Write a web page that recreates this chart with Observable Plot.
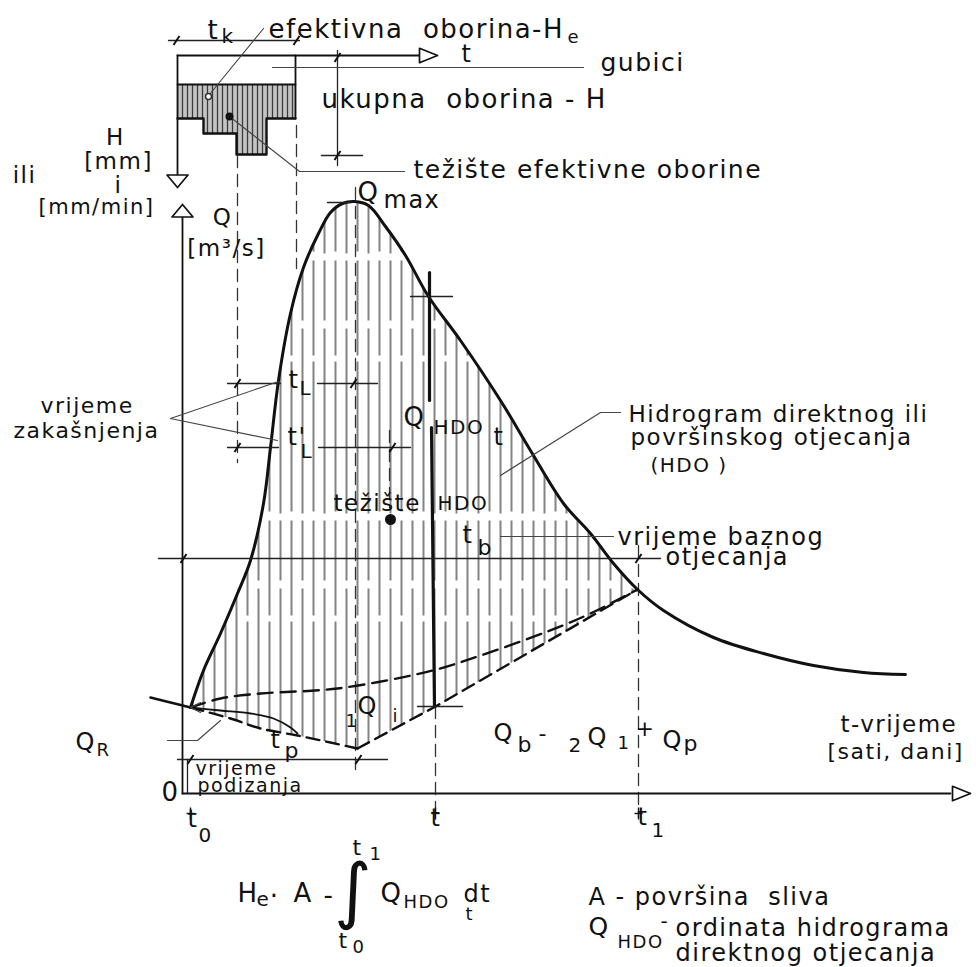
<!DOCTYPE html>
<html><head><meta charset="utf-8">
<script src="https://cdn.jsdelivr.net/npm/d3@7"></script>
<script src="https://cdn.jsdelivr.net/npm/@observablehq/plot@0.6"></script>
<style>
html,body{margin:0;padding:0;background:#fff;}
#chart svg text{letter-spacing:1.5px;white-space:pre;}
</style></head><body><div id="chart"></div>
<script>
// ---- Data (t = time units, q = discharge units; hyetograph depths measured down from its own t-axis) ----
const hydroHead = [[-4.0,9.6],[-2.0,9.1],[0,8.6]];
const hydroRiseFall = [[0,8.6],[1.3,12.3],[3.0,16.0],[4.7,20.0],[6.0,23.3],[7.3,29.0],[8.0,34.6],[8.8,41.3],[10.0,48.0],[11.3,52.6],[12.8,56.0],[14.0,58.1],[15.2,59.0],[16.4,59.2],[17.8,58.8],[19.5,56.7],[21.5,53.8],[23.8,49.7],[27.0,45.3],[31.0,39.3],[34.0,34.3],[37.3,29.0],[40.0,26.0],[42.3,23.0],[44.7,20.4]];
const hydroTail = [[44.7,20.4],[47.3,18.3],[52.3,15.6],[57.3,14.0],[62.3,12.8],[67.3,12.1],[71.5,11.9]];
const baseUpper = [[0,8.6],[3.0,9.5],[7.0,10.0],[14.7,10.5],[24.2,12.3],[29.0,13.8],[35.7,16.2],[40.0,18.0],[44.7,20.4]];
const baseDip = [[0,8.6],[4.0,7.5],[7.0,6.5],[10.7,5.8],[14.0,5.1],[16.7,4.5]];
const baseRise = [[16.7,4.5],[24.5,8.7],[44.7,20.4]];
const qrArrow = [[0,8.6],[3.0,8.3],[6.0,8.0],[8.3,7.5],[10.0,6.6],[10.7,6.0]];

const hyetoEdges = [-1.3,1.3,4.6,7.6,10.5];
const hyetoTotal = [6.3,7.8,9.9,6.3];
const hyetoLoss = 2.9;
const hyetoAxisQ = 73.8;

const axisSegs = [
  [[-0.8,0],[-0.8,57.6]],
  [[-0.8,0],[76.0,0]],
  [[-1.3,73.8],[-1.3,61.7]],
  [[-1.3,73.8],[23.1,73.8]],
  [[10.5,73.8],[10.5,67.5]],
  [[-1.3,70.9],[10.5,70.9]]
];
const arrowHeads = [[-0.8,58.9,"up"],[-1.3,60.6,"down"],[24.7,73.8,"right"],[78.0,0,"right"]];
const dimSegs = [
  [[-2.2,75.3],[10.9,75.3]],
  [[3.7,41.0],[9.0,41.0]], [[12.7,41.0],[18.7,41.0]],
  [[3.7,34.6],[8.8,34.6]], [[12.8,34.6],[22.0,34.6]],
  [[-3.2,23.5],[47.0,23.5]],
  [[-1.3,3.4],[19.7,3.4]],
  [[-0.3,3.4],[-0.3,0]],
  [[14.7,74.3],[14.7,62.8]], [[13.1,63.8],[17.2,63.8]],
  [[13.7,59.1],[16.0,59.1]],
  [[22.0,49.7],[26.2,49.7]],
  [[22.7,8.7],[27.2,8.7]]
];
const guideSegs = [
  [[4.7,63.8],[4.7,33.1]],
  [[10.6,66.8],[10.6,52.5]],
  [[16.5,60.6],[16.5,1.8]],
  [[24.5,8.7],[24.5,-2.4]],
  [[44.8,24.8],[44.8,-2.4]],
  [[19.9,36.3],[19.9,28.6]]
];
const thickSegs = [
  [[23.9,52.1],[23.9,39.3]],
  [[24.1,36.6],[24.4,8.7]]
];
const leaderSegs = [
  [[7.3,76.5],[1.9,69.9]],
  [[8.2,72.6],[39.3,72.6]],
  [[3.9,67.7],[10.9,62.2],[21.4,62.2]],
  [[-2.0,37.5],[8.8,41.2]],
  [[-2.0,37.5],[8.7,35.3]],
  [[31.0,31.8],[41.0,38.1],[43.0,38.1]],
  [[31.0,25.7],[42.3,25.7]],
  [[-2.3,5.3],[0.7,5.3],[3.0,7.3]],
  [[1.0,9.1],[0,8.6],[1.0,8.1]]
];
const slashPts = [[-1.4,75.3],[10.6,75.3],[4.7,41.0],[16.3,41.0],[4.7,34.6],[20.2,34.6],[-0.7,23.5],[44.8,23.5],[0,3.4],[16.8,3.4],[14.7,73.6],[14.7,63.8]];
const crossTicks = [[0,-2.0],[24.5,-2.0],[44.8,-2.0]];
const centroidHDO = [[20.0,27.4]];
const centroidHe = [[3.9,67.7]];
const markerHe = [[1.8,69.7]];

// labels [t, q, text] grouped by lettering size
const lab26 = [[1.7,76.3,"t"],[7.8,76.4,"efektivna\u00a0\u00a0oborina-H"],[13.1,69.4,"ukupna\u00a0\u00a0oborina\u00a0-\u00a0H"],[16.7,60.1,"Q"],[21.3,37.6,"Q"],[4.7,-10.0,"H"],[10.3,-10.0,"A"],[13.3,-10.2,"-"],[19.0,-10.0,"Q"]];
const lab25 = [[41.0,73.1,"gubici"],[22.3,62.4,"težište\u00a0efektivne\u00a0oborine"],[39.8,-13.3,"Q"]];
const lab24 = [[27.1,73.9,"t"],[19.3,59.3,"max"],[9.8,41.3,"t"],[9.7,35.6,"t'"],[30.3,35.6,"t"],[27.2,25.8,"t"],[42.7,25.6,"vrijeme baznog"],[47.5,23.6,"otjecanja"],[16.7,8.7,"Q"],[30.3,6.0,"Q"],[39.7,5.6,"Q"],[47.2,5.3,"Q"],[-11.5,5.1,"Q"],[8.0,5.3,"t"],[-0.3,-2.6,"t"],[24.0,-2.5,"t"],[44.7,-2.4,"t"],[27.3,-10.1,"dt"],[39.8,-10.4,"A\u00a0-\u00a0površina\u00a0\u00a0sliva"],[48.5,-13.5,"ordinata hidrograma"],[48.5,-16.0,"direktnog otjecanja"]];
const lab23 = [[43.8,37.9,"Hidrogram direktnog ili"],[44.0,35.6,"površinskog otjecanja"],[14.3,29.0,"težište"],[65.0,6.9,"t-vrijeme"]];
const lab22 = [[28.7,24.6,"b"],[34.8,6.0,"-"],[44.5,6.5,"+"],[49.3,5.0,"p"],[32.7,4.9,"b"],[9.4,4.3,"p"],[63.7,4.2,"[sati,\u00a0dani]"],[16.2,-5.4,"t"],[14.8,-14.7,"t"],[-15.0,38.8,"vrijeme"],[-17.7,36.3,"zakašnjenja"]];
const lab19 = [[0.5,2.5,"vrijeme"],[0.7,0.75,"podizanja"]];
const lab20 = [[10.9,40.5,"L"],[11.0,34.2,"L"],[24.3,36.6,"HDO"],[24.7,29.0,"HDO"],[3.1,75.7,"k"],[37.8,4.8,"2"],[0.8,-4.2,"0"],[46.1,-3.7,"1"],[46.0,32.8,"(HDO\u00a0)"],[6.6,-10.6,"e"],[47.0,-12.8,"-"]];
const lab18 = [[37.7,75.6,"e"],[15.5,7.2,"1"],[20.2,7.7,"i"],[42.7,5.0,"1"],[-9.4,4.3,"R"],[17.9,-6.1,"1"],[16.2,-15.4,"0"],[21.3,-10.9,"HDO"],[27.5,-12.1,"t"],[42.7,-14.9,"HDO"]];
const labCenter23 = [[-7.5,65.6,"H"],[-7.2,63.2,"[mm]"],[-7.2,60.8,"i"],[-16.6,61.8,"ili"],[3.6,54.5,"[m³/s]"],[3.2,57.6,"Q"]];
const labCenter21 = [[-9.4,58.6,"[mm/min]"]];
const labCenter26 = [[-2.0,0.1,"0"],[8.4,-10.3,"·"]];
const labIntegral = [[16.3,-9.8,"∫"]];

// ---- helpers ----
const rows = segs => segs.flatMap((s,i)=>s.map(([t,q])=>({t,q,id:i})));
const segLine = (segs,o) => Plot.line(rows(segs),{x:"t",y:"q",z:"id",...o});
function triangle([t,q,dir],i){
  const L = dir==="right"?1.8:1.25, w = dir==="right"?0.72:1.05;
  let p;
  if(dir==="up") p=[[t,q],[t+w,q-L],[t-w,q-L]];
  else if(dir==="down") p=[[t,q],[t+w,q+L],[t-w,q+L]];
  else p=[[t,q],[t-L,q+w],[t-L,q-w]];
  return [...p,p[0]].map(([a,b])=>({t:a,q:b,id:i}));
}
const txt = (arr,size,anchor="start") => Plot.text(arr,{x:d=>d[0],y:d=>d[1],text:d=>d[2],fontSize:size,textAnchor:anchor,fill:"#111"});

const hdoPolygon = [...hydroRiseFall, ...baseRise.slice().reverse().slice(1), ...baseDip.slice().reverse().slice(1)];
const mainCurve = [...hydroRiseFall, ...hydroTail.slice(1)];
const hyetoBlocks = hyetoTotal.map((h,i)=>({x1:hyetoEdges[i],x2:hyetoEdges[i+1],top:hyetoAxisQ-hyetoLoss,bottom:hyetoAxisQ-h}));
const hyetoOutline = [...hyetoBlocks.map(b=>[b.x1,b.bottom]), [hyetoEdges[hyetoEdges.length-1], hyetoBlocks[hyetoBlocks.length-1].bottom]];

const svg = Plot.plot({
  width:976, height:967, margin:0,
  x:{domain:[-19,78.6], axis:null},
  y:{domain:[-17.4,79.3], axis:null},
  style:{fontFamily:"DejaVu Sans", background:"white", overflow:"visible"},
  marks:[
    Plot.line(hdoPolygon,{x:d=>d[0],y:d=>d[1],fill:"url(#hatchHDO)",stroke:"none"}),
    Plot.rect(hyetoBlocks,{x1:"x1",x2:"x2",y1:"top",y2:"bottom",fill:"url(#hatchH)"}),
    Plot.line(hyetoOutline,{x:d=>d[0],y:d=>d[1],curve:"step-after",stroke:"#111",strokeWidth:2.4}),
    segLine(guideSegs,{stroke:"#333",strokeWidth:1.3,strokeDasharray:"12 7"}),
    segLine(axisSegs,{stroke:"#111",strokeWidth:1.8}),
    Plot.line(baseUpper,{x:d=>d[0],y:d=>d[1],curve:"catmull-rom",stroke:"#111",strokeWidth:2.4,strokeDasharray:"15 8"}),
    Plot.line(baseDip,{x:d=>d[0],y:d=>d[1],curve:"catmull-rom",stroke:"#111",strokeWidth:2.4,strokeDasharray:"13 7"}),
    Plot.line(baseRise,{x:d=>d[0],y:d=>d[1],stroke:"#111",strokeWidth:2.4,strokeDasharray:"13 7"}),
    Plot.line(qrArrow,{x:d=>d[0],y:d=>d[1],curve:"catmull-rom",stroke:"#111",strokeWidth:1.8}),
    Plot.line(hydroHead,{x:d=>d[0],y:d=>d[1],curve:"catmull-rom",stroke:"#111",strokeWidth:2.6}),
    Plot.line(mainCurve,{x:d=>d[0],y:d=>d[1],curve:"catmull-rom",stroke:"#111",strokeWidth:3}),
    segLine(thickSegs,{stroke:"#111",strokeWidth:3.2}),
    segLine(dimSegs,{stroke:"#222",strokeWidth:1.3}),
    Plot.link(slashPts,{x1:d=>d[0]-0.3,y1:d=>d[1]-0.45,x2:d=>d[0]+0.3,y2:d=>d[1]+0.45,stroke:"#111",strokeWidth:2}),
    Plot.link(crossTicks,{x1:d=>d[0]-0.4,y1:d=>d[1],x2:d=>d[0]+0.4,y2:d=>d[1],stroke:"#111",strokeWidth:1.4}),
    Plot.link(crossTicks,{x1:d=>d[0],y1:d=>d[1]-0.6,x2:d=>d[0],y2:d=>d[1]+0.6,stroke:"#111",strokeWidth:1.4}),
    segLine(leaderSegs,{stroke:"#444",strokeWidth:1.1}),
    Plot.line(arrowHeads.flatMap(triangle),{x:"t",y:"q",z:"id",stroke:"#111",strokeWidth:1.7,fill:"white"}),
    Plot.dot(centroidHDO,{x:d=>d[0],y:d=>d[1],r:5.5,fill:"#111"}),
    Plot.dot(centroidHe,{x:d=>d[0],y:d=>d[1],r:4,fill:"#111"}),
    Plot.dot(markerHe,{x:d=>d[0],y:d=>d[1],r:3,stroke:"#333",fill:"white"}),
    txt(lab26,26), txt(lab25,25), txt(lab24,24), txt(lab23,23), txt(lab22,22), txt(lab19,19), txt(lab20,20), txt(lab18,18),
    txt(labCenter23,23,"middle"), txt(labCenter21,21,"middle"), txt(labCenter26,26,"middle"),
    txt(labIntegral,72,"middle")
  ]
});
d3.select(svg).insert("defs",":first-child").html(`
<pattern id="hatchHDO" patternUnits="userSpaceOnUse" width="22" height="260">
 <line x1="5" y1="0" x2="5" y2="260" stroke="#6e6e6e" stroke-width="1.7" stroke-dasharray="95 6 150 9"/>
 <line x1="16" y1="0" x2="16" y2="260" stroke="#6e6e6e" stroke-width="1.7" stroke-dasharray="60 8 185 7"/>
</pattern>
<pattern id="hatchH" patternUnits="userSpaceOnUse" width="5" height="10">
 <rect width="5" height="10" fill="#c4c4c4"/>
 <line x1="2.5" y1="0" x2="2.5" y2="10" stroke="#3a3a3a" stroke-width="1.3"/>
</pattern>`);
document.getElementById("chart").appendChild(svg);
</script></body></html>
